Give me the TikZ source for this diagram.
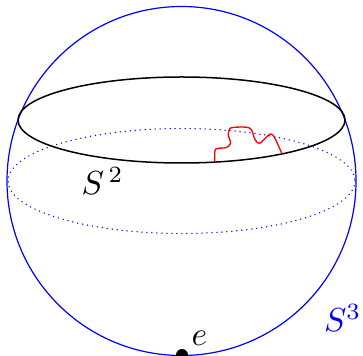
\documentclass[tikz,border=0pt]{standalone}
\begin{document}
\begin{tikzpicture}[x=0.3pt,y=-0.3pt,
  sphere/.style={draw=blue,line width=0.36pt},
  rim/.style={draw=black,line width=0.45pt},
  equator/.style={draw=blue,line width=0.45pt,line cap=round,dash pattern=on 0pt off 1.5pt},
  path/.style={draw=red,line width=0.4pt},
  lbl/.style={inner sep=0pt,font=\fontsize{10}{12}\selectfont}]
\useasboundingbox (0,0) rectangle (363,355);
\path[sphere] (181.5,181) circle[radius=174.5];
\path[equator] (181.5,181) ellipse[x radius=173.5,y radius=52.5];
\path[rim] (181.5,120) ellipse[x radius=163.5,y radius=43];
\draw[path] plot[smooth,tension=0.55] coordinates {(214.8,162.2) (214.8,151.5) (217,148.5) (226.5,147.5) (230.5,143) (228.3,135) (229.5,129) (234,127.3) (247,127.3) (251.5,130) (255,139.5) (259.5,143.3) (266.5,137) (270.7,134) (274.5,137.5) (282,153.8)};
\node[circle,fill=black,inner sep=0pt,minimum size=3.6pt] (e) at (182,355) {};
\node[lbl,anchor=south west] (elabel) at (191,346) {$e$};
\node[lbl,anchor=west] (s2) at (81,181) {$S^{\,2}$};
\node[lbl,text=blue,anchor=east] (s3) at (362,318) {$S^3$};
\end{tikzpicture}
\end{document}
